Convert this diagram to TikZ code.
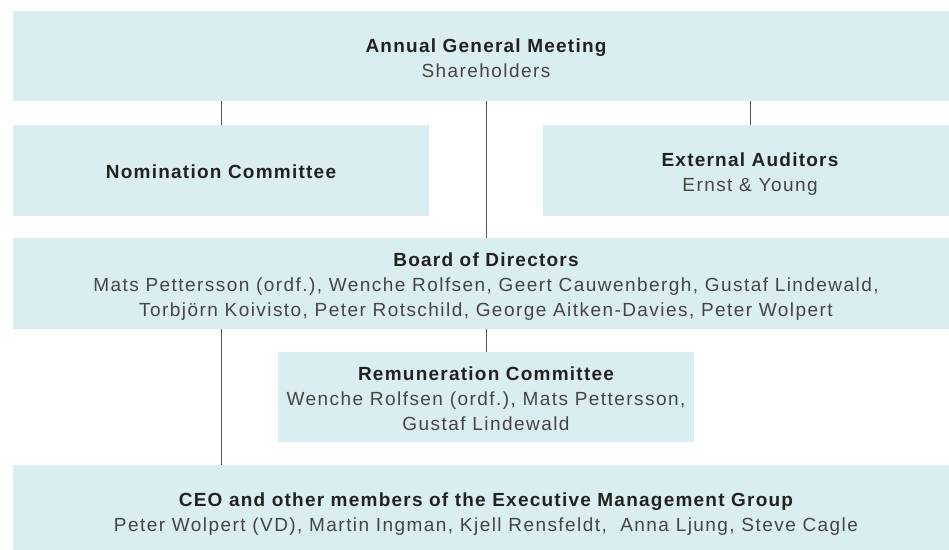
\documentclass[tikz,border=0pt]{standalone}
\usepackage{fontspec}
\setmainfont{Liberation Sans}[LetterSpace=7.6, BoldFeatures={LetterSpace=6.5}]
\definecolor{boxfill}{HTML}{DAEDF1}
\definecolor{titlecol}{HTML}{222222}
\definecolor{bodycol}{HTML}{454545}
\definecolor{linecol}{HTML}{555555}
\begin{document}
\begin{tikzpicture}[x=1pt,y=-1pt,
  box/.style={fill=boxfill, draw=none, inner sep=0pt},
  ttl/.style={anchor=base, inner sep=0pt, text=titlecol, font=\fontsize{19}{23}\selectfont\bfseries},
  bdy/.style={anchor=base, inner sep=0pt, text=bodycol, font=\fontsize{19}{23}\selectfont},
  conn/.style={draw=linecol, line width=1pt}]
\useasboundingbox (0,0) rectangle (949,549);
\clip (0,0) rectangle (949,549);
% boxes
\node[box, minimum width=946pt, minimum height=90pt] (agm) at (486,56) {};
\node[box, minimum width=416pt, minimum height=91pt] (nom) at (221,170.5) {};
\node[box, minimum width=414pt, minimum height=91pt] (ext) at (750,170.5) {};
\node[box, minimum width=946pt, minimum height=91pt] (board) at (486,283.5) {};
\node[box, minimum width=416pt, minimum height=90pt] (rem) at (486,397) {};
\node[box, minimum width=946pt, minimum height=95pt] (ceo) at (486,512.5) {};
% connectors
\draw[conn] (nom.north) -- (nom.north |- agm.south);
\draw[conn] (ext.north) -- (ext.north |- agm.south);
\draw[conn] (agm.south) -- (board.north);
\draw[conn] (board.south) -- (rem.north);
\coordinate (ceotop) at (ceo.north -| nom.south);
\draw[conn] (ceotop |- board.south) -- (ceotop);
% texts
\node[ttl] (agmt) at (486,52) {Annual General Meeting};
\node[bdy] (agmb) at (486,77) {Shareholders};
\node[ttl] (nomt) at (221,178.3) {Nomination Committee};
\node[ttl] (extt) at (750,166) {External Auditors};
\node[bdy] (extb) at (750,191.5) {Ernst \& Young};
\node[ttl] (boardt) at (486,266) {Board of Directors};
\node[bdy] (boardb1) at (486,291) {Mats Pettersson (ordf.), Wenche Rolfsen, Geert Cauwenbergh, Gustaf Lindewald,};
\node[bdy] (boardb2) at (486,316.5) {Torbjörn Koivisto, Peter Rotschild, George Aitken-Davies, Peter Wolpert};
\node[ttl] (remt) at (486,380) {Remuneration Committee};
\node[bdy] (remb1) at (486,405) {Wenche Rolfsen (ordf.), Mats Pettersson,};
\node[bdy] (remb2) at (486,430) {Gustaf Lindewald};
\node[ttl] (ceot) at (486,506) {CEO and other members of the Executive Management Group};
\node[bdy] (ceob) at (486,531.5) {Peter Wolpert (VD), Martin Ingman, Kjell Rensfeldt, \ Anna Ljung, Steve Cagle};
\end{tikzpicture}
\end{document}
